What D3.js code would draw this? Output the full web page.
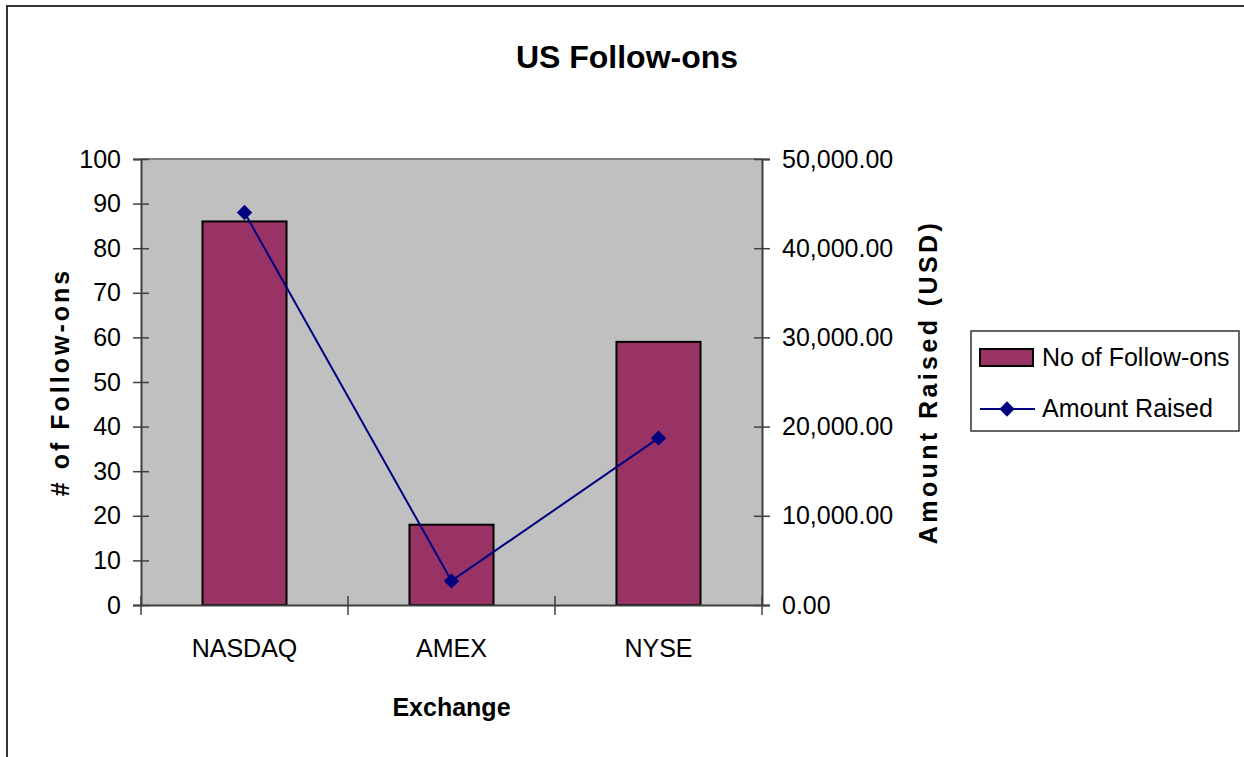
<!DOCTYPE html>
<html lang="en">
<head>
<meta charset="UTF-8">
<title>US Follow-ons</title>
<style>
    body { margin: 0; padding: 0; background: #fff; }
    svg { display: block; }
    text { font-family: "Liberation Sans", Arial, sans-serif; fill: #000; }
    .tick text { font-size: 25px; }
    .axis-title { font-size: 25px; font-weight: bold; }
</style>
</head>
<body>
<script src="https://d3js.org/d3.v7.min.js"></script>
<script>
    const exchanges = ['NASDAQ', 'AMEX', 'NYSE'];
    const followOns = [86, 18, 59];
    const amountRaised = [44000, 2700, 18700];
    const leftTicks = [0, 10, 20, 30, 40, 50, 60, 70, 80, 90, 100];
    const rightTicks = [0, 10000, 20000, 30000, 40000, 50000];

    const width = 1244, height = 757;
    const plot = { left: 141, top: 159, right: 762, bottom: 605 };

    const svg = d3.select('body').append('svg')
        .attr('width', width)
        .attr('height', height);

    // outer chart border (only top/left visible)
    svg.append('rect')
        .attr('x', 7).attr('y', 6)
        .attr('width', 1400).attr('height', 1000)
        .attr('fill', 'none')
        .attr('stroke', '#333')
        .attr('stroke-width', 2);

    const x = d3.scaleBand()
        .domain(exchanges)
        .range([plot.left, plot.right]);

    const yLeft = d3.scaleLinear().domain([0, 100]).range([plot.bottom, plot.top]);
    const yRight = d3.scaleLinear().domain([0, 50000]).range([plot.bottom, plot.top]);

    // plot area
    svg.append('rect')
        .attr('x', plot.left).attr('y', plot.top)
        .attr('width', plot.right - plot.left)
        .attr('height', plot.bottom - plot.top)
        .attr('fill', '#c0c0c0');
    svg.append('line')
        .attr('x1', plot.left).attr('x2', plot.right)
        .attr('y1', plot.top).attr('y2', plot.top)
        .attr('stroke', '#808080').attr('stroke-width', 2);

    // bars
    const barW = x.bandwidth() * 0.406;
    svg.append('g')
        .selectAll('rect')
        .data(exchanges)
        .enter().append('rect')
        .attr('x', d => x(d) + (x.bandwidth() - barW) / 2)
        .attr('y', (d, i) => yLeft(followOns[i]))
        .attr('width', barW)
        .attr('height', (d, i) => yLeft(0) - yLeft(followOns[i]))
        .attr('fill', '#993366')
        .attr('stroke', '#000')
        .attr('stroke-width', 2);

    // axes
    const leftAxis = svg.append('g')
        .attr('transform', `translate(${plot.left},0)`)
        .call(d3.axisLeft(yLeft).tickValues(leftTicks).tickSize(8).tickPadding(12));
    const rightAxis = svg.append('g')
        .attr('transform', `translate(${plot.right},0)`)
        .call(d3.axisRight(yRight).tickValues(rightTicks).tickSize(8).tickPadding(12)
            .tickFormat(d3.format(',.2f')));
    const bottomAxis = svg.append('g')
        .attr('transform', `translate(0,${plot.bottom})`)
        .call(d3.axisBottom(x).tickSize(0).tickPadding(34));

    [leftAxis, rightAxis, bottomAxis].forEach(g => {
        g.select('.domain').attr('stroke', '#404040').attr('stroke-width', 2);
        g.selectAll('.tick line').attr('stroke', '#404040').attr('stroke-width', 1.5);
        g.selectAll('.tick text').attr('fill', '#000');
    });
    // ticks cross the axis lines
    leftAxis.selectAll('.tick line').attr('x1', 8);
    rightAxis.selectAll('.tick line').attr('x1', -8);
    rightAxis.selectAll('.tick text').attr('x', 20);
    leftAxis.selectAll('.tick text').attr('x', -20);

    // category boundary ticks on the x axis
    const bounds = exchanges.map(d => x(d)).concat([plot.right]);
    svg.append('g')
        .selectAll('line')
        .data(bounds)
        .enter().append('line')
        .attr('x1', d => d).attr('x2', d => d)
        .attr('y1', plot.bottom - 9).attr('y2', plot.bottom + 10)
        .attr('stroke', '#404040')
        .attr('stroke-width', 1.5);

    // line series on right axis
    const line = d3.line()
        .x((d, i) => x(exchanges[i]) + x.bandwidth() / 2)
        .y(d => yRight(d));
    svg.append('path')
        .datum(amountRaised)
        .attr('d', line)
        .attr('fill', 'none')
        .attr('stroke', '#000080')
        .attr('stroke-width', 2);

    const diamond = d3.symbol().type(d3.symbolDiamond2).size(150);
    svg.append('g')
        .selectAll('path')
        .data(amountRaised)
        .enter().append('path')
        .attr('d', diamond)
        .attr('transform', (d, i) => `translate(${x(exchanges[i]) + x.bandwidth() / 2},${yRight(d)})`)
        .attr('fill', '#000080');

    // titles
    svg.append('text')
        .attr('x', 627).attr('y', 68)
        .attr('text-anchor', 'middle')
        .style('font-size', '32px').style('font-weight', 'bold')
        .text('US Follow-ons');

    svg.append('text')
        .attr('class', 'axis-title')
        .attr('x', (plot.left + plot.right) / 2).attr('y', 716)
        .attr('text-anchor', 'middle')
        .text('Exchange');

    svg.append('text')
        .attr('class', 'axis-title')
        .attr('transform', `translate(69,${(plot.top + plot.bottom) / 2}) rotate(-90)`)
        .attr('text-anchor', 'middle')
        .style('letter-spacing', '3px')
        .text('# of Follow-ons');

    svg.append('text')
        .attr('class', 'axis-title')
        .attr('transform', `translate(937,${(plot.top + plot.bottom) / 2}) rotate(-90)`)
        .attr('text-anchor', 'middle')
        .style('letter-spacing', '3.4px')
        .text('Amount Raised (USD)');

    // legend
    const legend = svg.append('g').attr('transform', 'translate(971,331)');
    legend.append('rect')
        .attr('width', 268).attr('height', 100)
        .attr('fill', '#fff')
        .attr('stroke', '#333').attr('stroke-width', 1.5);
    legend.append('rect')
        .attr('x', 9).attr('y', 18)
        .attr('width', 53).attr('height', 17)
        .attr('fill', '#993366')
        .attr('stroke', '#000').attr('stroke-width', 2);
    legend.append('text')
        .attr('x', 71).attr('y', 35)
        .style('font-size', '25px')
        .text('No of Follow-ons');
    legend.append('line')
        .attr('x1', 9).attr('x2', 64)
        .attr('y1', 78).attr('y2', 78)
        .attr('stroke', '#000080').attr('stroke-width', 2);
    legend.append('path')
        .attr('d', diamond)
        .attr('transform', 'translate(36,78)')
        .attr('fill', '#000080');
    legend.append('text')
        .attr('x', 71).attr('y', 86)
        .style('font-size', '25px')
        .text('Amount Raised');
</script>
</body>
</html>
